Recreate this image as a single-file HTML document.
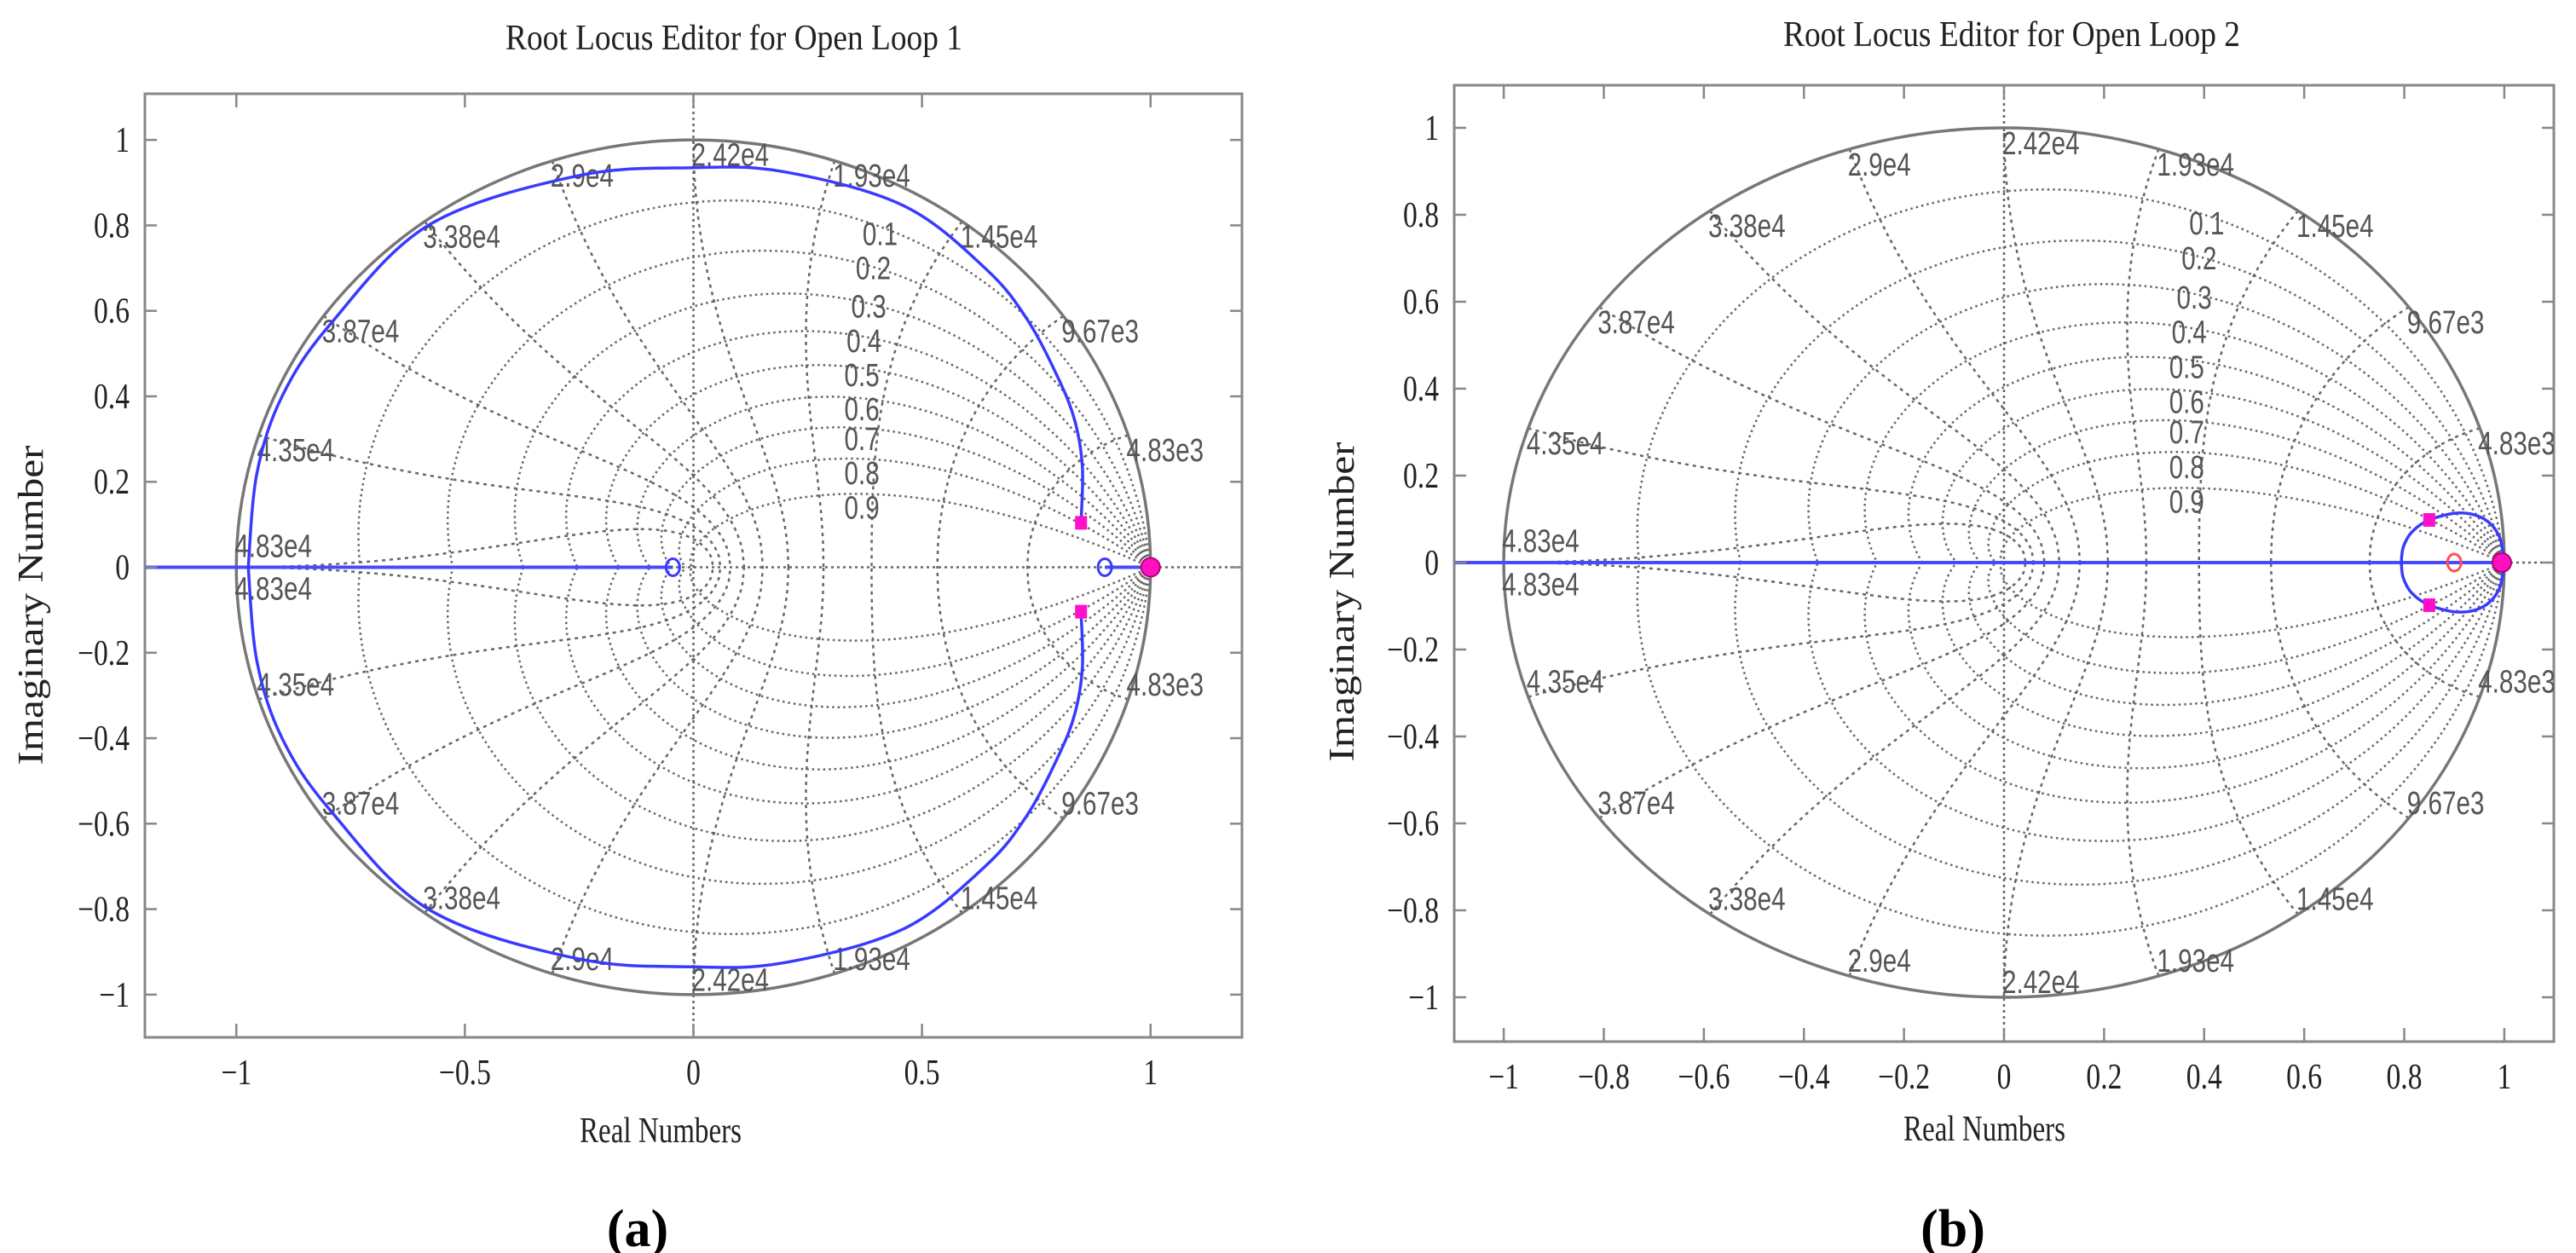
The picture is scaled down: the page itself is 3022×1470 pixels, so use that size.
<!DOCTYPE html>
<html><head><meta charset="utf-8"><style>
html,body{margin:0;padding:0;background:#fff}
svg{display:block}
.tk{font-family:"Liberation Serif",serif;font-size:42px;fill:#222}
.gl{font-family:"Liberation Sans",sans-serif;font-size:38px;fill:#555}
.tt{font-family:"Liberation Serif",serif;font-size:42px;fill:#222}
</style></head><body>
<svg id="fig" width="3022" height="1470" viewBox="0 0 3022 1470" xmlns="http://www.w3.org/2000/svg">
<text x="861" y="58" text-anchor="middle" class="tt" textLength="536" lengthAdjust="spacingAndGlyphs">Root Locus Editor for Open Loop 1</text>
<text x="2360" y="54" text-anchor="middle" class="tt" textLength="536" lengthAdjust="spacingAndGlyphs">Root Locus Editor for Open Loop 2</text>
<text x="775" y="1340" text-anchor="middle" class="tt" textLength="190" lengthAdjust="spacingAndGlyphs">Real Numbers</text>
<text x="2328" y="1338" text-anchor="middle" class="tt" textLength="190" lengthAdjust="spacingAndGlyphs">Real Numbers</text>
<text transform="translate(50,710) rotate(-90)" text-anchor="middle" class="tt" textLength="375" lengthAdjust="spacingAndGlyphs">Imaginary Number</text>
<text transform="translate(1588,706) rotate(-90)" text-anchor="middle" class="tt" textLength="375" lengthAdjust="spacingAndGlyphs">Imaginary Number</text>
<text x="748" y="1462" text-anchor="middle" style="font-family:'Liberation Serif',serif;font-size:62px;font-weight:bold">(a)</text>
<text x="2291" y="1462" text-anchor="middle" style="font-family:'Liberation Serif',serif;font-size:62px;font-weight:bold">(b)</text>
<g id="pa"></g><g id="pb"></g>
</svg>
<script>
// ---- data ----
const xTicksA = [-1, -0.5, 0, 0.5, 1];
const xTickLabelsA = ["\u22121", "\u22120.5", "0", "0.5", "1"];
const xTicksB = [-1, -0.8, -0.6, -0.4, -0.2, 0, 0.2, 0.4, 0.6, 0.8, 1];
const xTickLabelsB = ["\u22121", "\u22120.8", "\u22120.6", "\u22120.4", "\u22120.2", "0", "0.2", "0.4", "0.6", "0.8", "1"];
const yTicks = [1, 0.8, 0.6, 0.4, 0.2, 0, -0.2, -0.4, -0.6, -0.8, -1];
const yTickLabels = ["1", "0.8", "0.6", "0.4", "0.2", "0", "\u22120.2", "\u22120.4", "\u22120.6", "\u22120.8", "\u22121"];
const zetaValues = [0.1, 0.2, 0.3, 0.4, 0.5, 0.6, 0.7, 0.8, 0.9];
const zetaLabelY = [0.78, 0.70, 0.61, 0.53, 0.45, 0.37, 0.30, 0.22, 0.14];
const zetaLabelX = [0.37, 0.355, 0.345, 0.335, 0.33, 0.33, 0.33, 0.33, 0.33];
const wnLabels = ["4.83e3", "9.67e3", "1.45e4", "1.93e4", "2.42e4", "2.9e4", "3.38e4", "3.87e4", "4.35e4", "4.83e4"];
// locus A upper branch (real, imag)
const locusAX = [0.848, 0.851, 0.835, 0.80, 0.73, 0.64, 0.46, 0.20, 0.0, -0.258, -0.58, -0.795, -0.90, -0.955, -0.974];
const locusAY = [0.104, 0.234, 0.34, 0.438, 0.58, 0.698, 0.846, 0.925, 0.935, 0.915, 0.80, 0.568, 0.40, 0.22, 0.0];
const realAxisA = [[-1.2, -0.045], [0.9, 1.0]];
const zerosA = [-0.045, 0.9];
const polesA = [1.0];
const clPolesA = [[0.848, 0.104], [0.848, -0.104]];
// locus B loop upper branch
const locusBX = [1.0, 0.99, 0.96, 0.91, 0.85, 0.815, 0.798, 0.794];
const locusBY = [0.0, 0.06, 0.10, 0.114, 0.098, 0.07, 0.035, 0.0];
const realAxisB = [[-1.1, 1.0]];
const zerosB = [0.90];
const polesB = [0.995];
const clPolesB = [[0.85, 0.098], [0.85, -0.098]];

const NS = "http://www.w3.org/2000/svg";
function mk(parent, tag, attrs){const e=document.createElementNS(NS,tag);for(const k in attrs)e.setAttribute(k,attrs[k]);parent.appendChild(e);return e;}
function smooth(P){
  let d='M'+P[0][0].toFixed(1)+' '+P[0][1].toFixed(1);
  for(let i=0;i<P.length-1;i++){
    const p0=P[Math.max(0,i-1)],p1=P[i],p2=P[i+1],p3=P[Math.min(P.length-1,i+2)];
    const c1=[p1[0]+(p2[0]-p0[0])/6,p1[1]+(p2[1]-p0[1])/6];
    const c2=[p2[0]-(p3[0]-p1[0])/6,p2[1]-(p3[1]-p1[1])/6];
    d+=' C'+c1.map(v=>v.toFixed(1)).join(' ')+' '+c2.map(v=>v.toFixed(1)).join(' ')+' '+p2.map(v=>v.toFixed(1)).join(' ');
  }
  return d;
}
function ctext(parent, x, y, str, cls, anchor, sxk){
  const t=mk(parent,'text',{transform:'translate('+x.toFixed(1)+','+y.toFixed(1)+') scale('+sxk+',1)','class':cls,'text-anchor':anchor,x:0,y:0});
  t.textContent=str; return t;
}

function drawPlot(g, cfg){
  const sx = v => cfg.x0 + (v - cfg.xmin)/(cfg.xmax-cfg.xmin)*(cfg.x1-cfg.x0);
  const sy = v => cfg.y1 - (v - cfg.ymin)/(cfg.ymax-cfg.ymin)*(cfg.y1-cfg.y0);
  const path = pts => pts.map((p,i)=>(i?'L':'M')+sx(p[0]).toFixed(1)+' '+sy(p[1]).toFixed(1)).join(' ');
  let r = mk(g,'rect',{x:cfg.x0,y:cfg.y0,width:cfg.x1-cfg.x0,height:cfg.y1-cfg.y0,fill:'#fff',stroke:'#888','stroke-width':3});
   
  const cp = 'clip'+cfg.id;
  const cl = mk(mk(g,'defs',{}),'clipPath',{id:cp});
  mk(cl,'rect',{x:cfg.x0,y:cfg.y0,width:cfg.x1-cfg.x0,height:cfg.y1-cfg.y0});
  const inner = mk(g,'g',{'clip-path':'url(#'+cp+')'});
  let a1 = mk(inner,'line',{x1:sx(0),x2:sx(0),y1:cfg.y0,y2:cfg.y1,stroke:'#666','stroke-width':2.5,'stroke-dasharray':'3 4'});
   
  let a2 = mk(inner,'line',{x1:cfg.x0,x2:cfg.x1,y1:sy(0),y2:sy(0),stroke:'#666','stroke-width':2.5,'stroke-dasharray':'3 4'});
   
  zetaValues.forEach(z=>{
    const c = z/Math.sqrt(1-z*z);
    [1,-1].forEach(sg=>{
      const pts=[];
      for(let i=0;i<=120;i++){const th=Math.PI*i/120;const rr=Math.exp(-c*th);pts.push([rr*Math.cos(th),sg*rr*Math.sin(th)]);}
      const p=mk(inner,'path',{d:path(pts),fill:'none',stroke:'#666','stroke-width':2.5,'stroke-dasharray':'2.5 4'});
       
    });
  });
  for(let k=1;k<=10;k++){
    const w=k*Math.PI/10;
    [1,-1].forEach(sg=>{
      const pts=[];
      for(let i=0;i<=80;i++){const z=i/80;const rr=Math.exp(-z*w);const th=w*Math.sqrt(1-z*z);pts.push([rr*Math.cos(th),sg*rr*Math.sin(th)]);}
      const p=mk(inner,'path',{d:path(pts),fill:'none',stroke:'#666','stroke-width':2.5,'stroke-dasharray':'4 5'});
       
    });
  }
  const uc = mk(inner,'ellipse',{cx:sx(0),cy:sy(0),rx:sx(1)-sx(0),ry:sy(0)-sy(1),fill:'none',stroke:'#777','stroke-width':3.5});
   
  wnLabels.forEach((lab,i)=>{
    const th=(i+1)*Math.PI/10;
    [1,-1].forEach(sg=>{
      let yc = (i===9) ? 0.05*sg : sg*(Math.sin(th)-0.035);
      const t=ctext(inner,sx(Math.cos(th))-2,sy(yc)+13,lab,'gl','start',0.78);
       
    });
  });
  zetaValues.forEach((z,i)=>{
    const t=ctext(inner,sx(zetaLabelX[i]),sy(zetaLabelY[i])+13,String(z),'gl','start',0.78);
     
  });
  cfg.xt.forEach((v,i)=>{
    const x=sx(v);
    const t1=mk(g,'line',{x1:x,x2:x,y1:cfg.y1,y2:cfg.y1-16,stroke:'#888','stroke-width':2.5});
     
    const t2=mk(g,'line',{x1:x,x2:x,y1:cfg.y0,y2:cfg.y0+16,stroke:'#888','stroke-width':2.5});
     
    const tl=ctext(g,x,cfg.y1+55,cfg.xl[i],'tk','middle',0.8);
     
  });
  yTicks.forEach((v,i)=>{
    const y=sy(v);
    const t1=mk(g,'line',{x1:cfg.x0,x2:cfg.x0+14,y1:y,y2:y,stroke:'#888','stroke-width':2.5});
     
    const t2=mk(g,'line',{x1:cfg.x1,x2:cfg.x1-14,y1:y,y2:y,stroke:'#888','stroke-width':2.5});
     
    const tl=ctext(g,cfg.x0-18,y+14,yTickLabels[i],'tk','end',0.8);
     
  });
  cfg.ra.forEach(seg=>{
    const l=mk(inner,'line',{x1:sx(seg[0]),x2:sx(seg[1]),y1:sy(0),y2:sy(0),stroke:'#4848ff','stroke-width':4});
     
  });
  [1,-1].forEach(sg=>{
    const pts=cfg.lx.map((x,i)=>[sx(x),sy(sg*cfg.ly[i])]);
    const p=mk(inner,'path',{d:smooth(pts),fill:'none',stroke:'#3a3aff','stroke-width':3.5,'stroke-linejoin':'round'});
     
  });
  cfg.zeros.forEach(z=>{
    const c=mk(inner,'ellipse',{cx:sx(z),cy:sy(0),rx:8,ry:10,fill:'none',stroke:cfg.zc,'stroke-width':3});
     
  });
  cfg.poles.forEach(pz=>{
    const c=mk(inner,'circle',{cx:sx(pz),cy:sy(0),r:11,fill:'#ff10c0',stroke:'#b0007a','stroke-width':2});
     
  });
  cfg.cl.forEach(p=>{
    const s=mk(inner,'rect',{x:sx(p[0])-7,y:sy(p[1])-8,width:14,height:16,fill:'#ff10c8'});
     
  });
}
drawPlot(document.getElementById('pa'),{id:'a',x0:170,x1:1457,y0:110,y1:1217,xmin:-1.2,xmax:1.2,ymin:-1.1,ymax:1.108,
  xt:xTicksA,xl:xTickLabelsA,lx:locusAX,ly:locusAY,ra:realAxisA,zeros:zerosA,poles:polesA,cl:clPolesA,zc:'#3a3aff'});
drawPlot(document.getElementById('pb'),{id:'b',x0:1706,x1:2996,y0:100,y1:1222,xmin:-1.099,xmax:1.099,ymin:-1.102,ymax:1.098,
  xt:xTicksB,xl:xTickLabelsB,lx:locusBX,ly:locusBY,ra:realAxisB,zeros:zerosB,poles:polesB,cl:clPolesB,zc:'#ff5050'});
</script>
</body></html>
